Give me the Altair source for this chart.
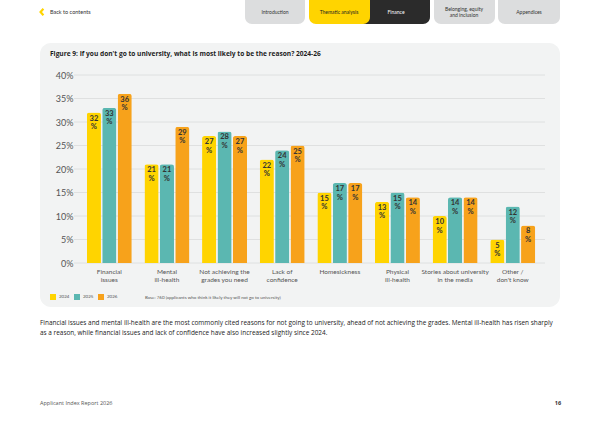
import altair as alt
import pandas as pd

# ---- data -------------------------------------------------------------
categories = [
    "Financial issues",
    "Mental ill-health",
    "Not achieving the grades you need",
    "Lack of confidence",
    "Homesickness",
    "Physical ill-health",
    "Stories about university in the media",
    "Other / don't know",
]
# axis labels, "|" marks the line break
cat_labels = [
    "Financial|issues",
    "Mental|ill-health",
    "Not achieving the|grades you need",
    "Lack of|confidence",
    "Homesickness",
    "Physical|ill-health",
    "Stories about university|in the media",
    "Other /|don't know",
]
years = ["2024", "2025", "2026"]
share_2024 = [32, 21, 27, 22, 15, 13, 10, 5]
share_2025 = [33, 21, 28, 24, 17, 15, 14, 12]
share_2026 = [36, 29, 27, 25, 17, 14, 14, 8]
y_ticks = [0, 5, 10, 15, 20, 25, 30, 35, 40]

year_colors = ["#FFD400", "#5BB7B1", "#F7A21B"]

rows = []
for yr, vals in zip(years, [share_2024, share_2025, share_2026]):
    for cat, lab, v in zip(categories, cat_labels, vals):
        rows.append({"reason": cat, "axis_label": lab, "year": yr,
                     "share": v, "text": f"{v}\n%"})
df = pd.DataFrame(rows)
grid_df = pd.DataFrame({"share": y_ticks})

# ---- page geometry ----------------------------------------------------
W, H = 468, 188          # plot area
LEFT, TOP = 77, 75       # plot origin on the page


def px(x):
    return x - LEFT


def py(y):
    return y - TOP


one = alt.Data(values=[{"k": 1}])


def box(x0, x1, y0, y1, **kw):
    return alt.Chart(one).mark_rect(**kw).encode(
        x=alt.value(px(x0)), x2=alt.value(px(x1)),
        y=alt.value(py(y0)), y2=alt.value(py(y1)))


def label(txt, x, y, **kw):
    return alt.Chart(one).mark_text(**kw).encode(
        x=alt.value(px(x)), y=alt.value(py(y)), text=alt.value(txt))


# ---- shared encodings -------------------------------------------------
x_enc = alt.X(
    "axis_label:N", sort=cat_labels,
    scale=alt.Scale(paddingInner=0.22, paddingOuter=0.17),
    axis=alt.Axis(labelExpr="split(datum.label, '|')", labelAngle=0,
                  labelFontSize=6.5, labelPadding=5, labelLineHeight=8.5,
                  labelLimit=200, labelColor="#555555", title=None,
                  zindex=1),
)
y_enc = alt.Y(
    "share:Q", scale=alt.Scale(domain=[0, 40], nice=False),
    axis=alt.Axis(values=y_ticks, labelExpr="datum.value + '%'",
                  labelFontSize=9, labelPadding=4, labelColor="#555555",
                  title=None, zindex=1),
)
xoff = alt.XOffset("year:N", sort=years, scale=alt.Scale(paddingInner=0.08))

# ---- layers -----------------------------------------------------------
panel = box(40, 560, 43, 307, color="#F2F3F3", cornerRadius=11)

tab_kw = dict(cornerRadiusBottomLeft=7, cornerRadiusBottomRight=7)
tabs = [
    box(245, 305, -5, 24, color="#DCDDDE", **tab_kw),
    box(358, 430, -5, 24, color="#2B2B2B", **tab_kw),
    box(309, 370, -5, 24, color="#FFD400", **tab_kw),
    box(434, 495, -5, 24, color="#DCDDDE", **tab_kw),
    box(498, 560, -5, 24, color="#DCDDDE", **tab_kw),
]
tab_txt = dict(fontSize=5, font="Lato", align="center", baseline="middle")
tab_labels = [
    label("Introduction", 275, 12, color="#333333", **tab_txt),
    label("Thematic analysis", 339, 12, color="#222222", **tab_txt),
    label("Finance", 396, 12, color="#FFFFFF", **tab_txt),
    label("Belonging, equity\nand inclusion", 464, 9, color="#333333",
          lineBreak="\n", lineHeight=6, **tab_txt),
    label("Appendices", 529, 12, color="#333333", **tab_txt),
]
chevron = alt.Chart(one).mark_point(
    shape="M0.45,-1L-0.45,0L0.45,1", filled=False, stroke="#FFD400",
    strokeWidth=2.2, size=40, opacity=1,
).encode(x=alt.value(px(42)), y=alt.value(py(12)))
back = label("Back to contents", 50, 12, fontSize=5.5, font="Lato",
             color="#333333", align="left", baseline="middle")

title = label(
    "Figure 9: If you don't go to university, what is most likely to be the reason? 2024-26",
    50, 54, fontSize=6.6, font="Open Sans", fontWeight="bold",
    color="#1E1E1E", align="left", baseline="middle")

gridlines = alt.Chart(grid_df).mark_rule(color="#D9DADA", strokeWidth=0.8).encode(
    y=y_enc, x=alt.value(-3), x2=alt.value(W))

bars = alt.Chart(df).mark_bar(cornerRadiusTopLeft=2.5, cornerRadiusTopRight=2.5).encode(
    x=x_enc, xOffset=xoff, y=y_enc,
    color=alt.Color(
        "year:N", sort=years,
        scale=alt.Scale(domain=years, range=year_colors),
        legend=alt.Legend(orient="none", legendX=px(50), legendY=py(294),
                          direction="horizontal", title=None,
                          symbolType="square", symbolSize=36,
                          symbolStrokeWidth=0, symbolOpacity=1,
                          labelFontSize=4.5, labelFont="Lato",
                          labelColor="#555555", labelOffset=3,
                          columnPadding=4)),
)

values_txt = alt.Chart(df).mark_text(
    baseline="top", dy=2, fontSize=7.5, lineBreak="\n", lineHeight=8.5,
    font="Lato", fontWeight="bold", color="#333333",
).encode(x=x_enc, xOffset=xoff, y=y_enc, text="text:N")

base_note = label(
    "Base: 760 (applicants who think it likely they will not go to university)",
    145, 297.5, fontSize=4.5, font="Lato", color="#555555",
    align="left", baseline="middle")

paragraph = label(
    "Financial issues and mental ill-health are the most commonly cited reasons for not going to university, ahead of not achieving the grades. Mental ill-health has risen sharply\n"
    "as a reason, while financial issues and lack of confidence have also increased slightly since 2024.",
    40, 323, fontSize=6.45, font="Open Sans", color="#222222",
    align="left", baseline="middle", lineBreak="\n", lineHeight=9.5)

footer = label("Applicant Index Report 2026", 40, 403, fontSize=5.5,
               font="Open Sans", color="#555555", align="left",
               baseline="middle")
page_no = label("16", 558, 403, fontSize=5.5, font="Open Sans",
                fontWeight="bold", color="#333333", align="center",
                baseline="middle")

chart = alt.layer(
    panel, *tabs, *tab_labels, chevron, back, title, gridlines, bars,
    values_txt, base_note, paragraph, footer, page_no,
).properties(
    width=W, height=H,
    autosize=alt.AutoSizeParams(type="none"),
    padding={"left": LEFT, "top": TOP, "right": 600 - LEFT - W,
             "bottom": 424 - TOP - H},
    background="white",
).configure_view(
    strokeOpacity=0,
).configure_axis(
    domain=False, ticks=False, grid=False, labelFont="Lato",
)

chart.save("out.html", embed_options={"renderer": "svg", "actions": False})
